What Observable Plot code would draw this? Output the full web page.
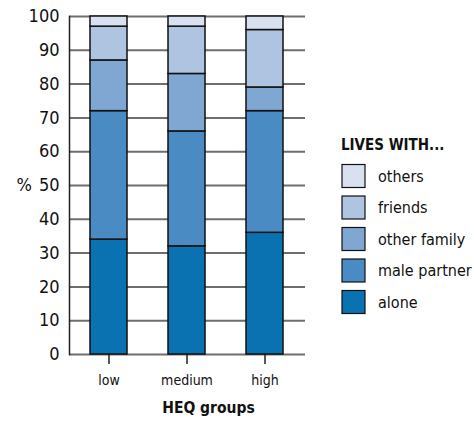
<!DOCTYPE html>
<html>
<head>
<meta charset="utf-8">
<script src="https://cdn.jsdelivr.net/npm/d3@7"></script>
<script src="https://cdn.jsdelivr.net/npm/@observablehq/plot@0.6"></script>
<style>
  body { margin: 0; background: #fff; }
  #wrap { position: relative; width: 474px; height: 423px; font-family: "DejaVu Sans Condensed", "DejaVu Sans", sans-serif; }
  #legend { position: absolute; left: 0; top: 0; }
</style>
</head>
<body>
<div id="wrap"></div>
<script>
const groups = ["low", "medium", "high"];
const categories = ["alone", "male partner", "other family", "friends", "others"];
const colors = ["#0a72b0", "#4b8bc3", "#80a7d2", "#aec4e0", "#d9e1f1"];
const alone       = [34, 32, 36];
const malePartner = [38, 34, 36];
const otherFamily = [15, 17, 7];
const friends     = [10, 14, 17];
const others      = [3, 3, 4];
const yTicks = [0, 10, 20, 30, 40, 50, 60, 70, 80, 90, 100];

const series = [alone, malePartner, otherFamily, friends, others];
const data = [];
categories.forEach((c, i) => groups.forEach((g, j) => data.push({group: g, cat: c, value: series[i][j]})));

const font = '"DejaVu Sans Condensed", "DejaVu Sans", sans-serif';

const chart = Plot.plot({
  width: 474,
  height: 423,
  marginLeft: 69,
  marginRight: 169,
  marginTop: 16,
  marginBottom: 69,
  style: {fontFamily: font, background: "white", color: "#111"},
  x: {domain: groups, paddingInner: 0.52, paddingOuter: 0.27, label: null},
  y: {domain: [0, 100], label: null},
  color: {domain: categories, range: colors},
  marks: [
    Plot.gridY(yTicks, {stroke: "#6e6e6e", strokeOpacity: 1, strokeWidth: 2}),
    Plot.axisY(yTicks, {tickSize: 0, tickPadding: 10, fontSize: 18, label: null}),
    Plot.axisX({tickSize: 10, tickPadding: 11, fontSize: 14, label: null, stroke: "#222", strokeWidth: 1.5}),
    Plot.barY(data, Plot.stackY({x: "group", y: "value", fill: "cat", order: categories, stroke: "#111", strokeWidth: 1.5})),
    Plot.frame({anchor: "left", stroke: "#222", strokeWidth: 1.5}),
    Plot.text(["%"], {frameAnchor: "left", dx: -53, fontSize: 18, text: d => d}),
    Plot.text(["HEQ groups"], {frameAnchor: "bottom", dx: 21, dy: 58, fontSize: 15.5, fontWeight: "bold", text: d => d})
  ]
});
document.getElementById("wrap").appendChild(chart);

// Legend
const ns = "http://www.w3.org/2000/svg";
const leg = document.createElementNS(ns, "svg");
leg.setAttribute("id", "legend");
leg.setAttribute("width", 474);
leg.setAttribute("height", 423);
leg.style.fontFamily = font;
const title = document.createElementNS(ns, "text");
title.setAttribute("x", 341);
title.setAttribute("y", 150);
title.setAttribute("font-size", 15);
title.setAttribute("font-weight", "bold");
title.setAttribute("fill", "#111");
title.textContent = "LIVES WITH...";
leg.appendChild(title);
const legendOrder = categories.slice().reverse();
legendOrder.forEach((c, i) => {
  const cy = 176 + i * 31.5;
  const r = document.createElementNS(ns, "rect");
  r.setAttribute("x", 342);
  r.setAttribute("y", cy - 11.5);
  r.setAttribute("width", 23);
  r.setAttribute("height", 23);
  r.setAttribute("fill", colors[categories.indexOf(c)]);
  r.setAttribute("stroke", "#111");
  r.setAttribute("stroke-width", 1.2);
  leg.appendChild(r);
  const t = document.createElementNS(ns, "text");
  t.setAttribute("x", 378);
  t.setAttribute("y", cy);
  t.setAttribute("dy", "0.35em");
  t.setAttribute("font-size", 16);
  t.setAttribute("fill", "#111");
  t.textContent = c;
  leg.appendChild(t);
});
document.getElementById("wrap").appendChild(leg);
</script>
</body>
</html>
